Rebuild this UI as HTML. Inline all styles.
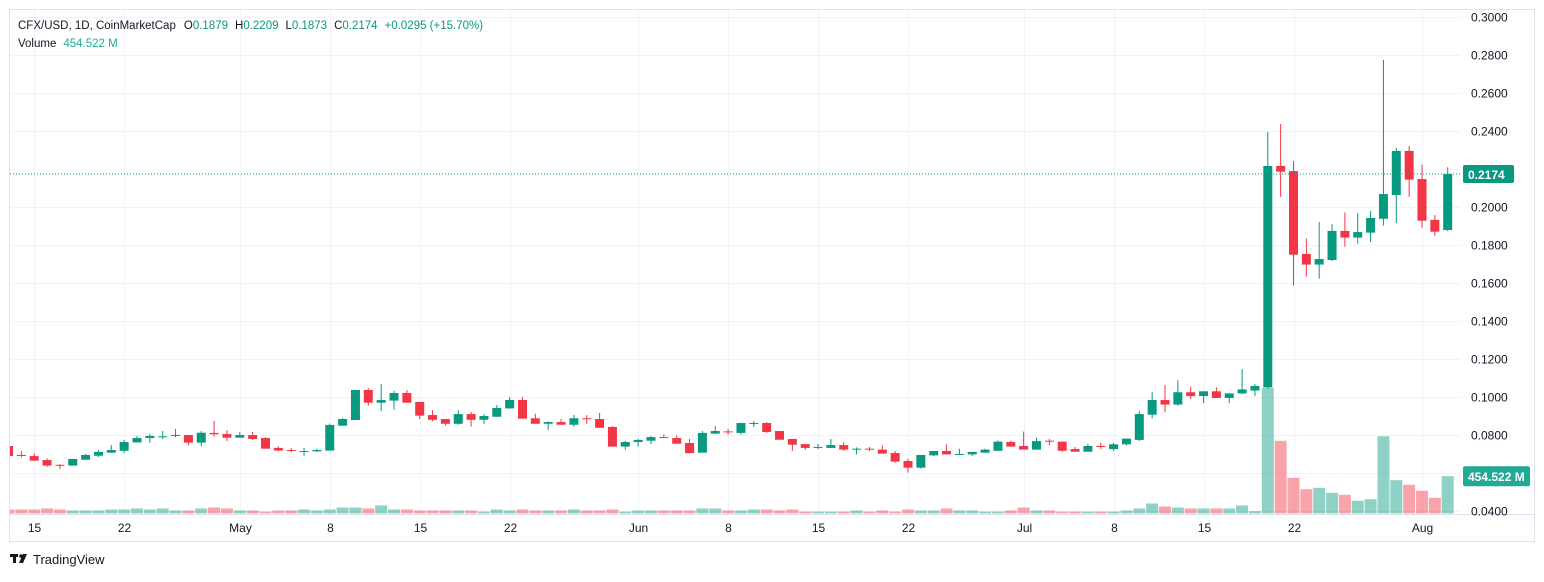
<!DOCTYPE html>
<html><head><meta charset="utf-8"><style>
html,body{margin:0;padding:0;background:#fff;}
body{width:1544px;height:577px;overflow:hidden;font-family:"Liberation Sans",sans-serif;}
svg text{font-family:"Liberation Sans",sans-serif;}
</style></head><body>
<svg id="chart" width="1544" height="577" viewBox="0 0 1544 577" xmlns="http://www.w3.org/2000/svg">
  <rect x="9.5" y="9.5" width="1525" height="532" fill="#fff" stroke="#e0e3eb"/>
  <g id="grid"></g>
  <g id="vol"></g>
  <g id="candles"></g>
  <line x1="10" y1="514.5" x2="1534" y2="514.5" stroke="#e0e3eb"/>
  <g id="yaxis"></g>
  <g id="xaxis"></g>
  <g font-size="11.5">
    <text x="18" y="29" fill="#131722">CFX/USD, 1D, CoinMarketCap<tspan dx="8" fill="#131722">O</tspan><tspan fill="#089981">0.1879</tspan><tspan dx="7" fill="#131722">H</tspan><tspan fill="#089981">0.2209</tspan><tspan dx="7" fill="#131722">L</tspan><tspan fill="#089981">0.1873</tspan><tspan dx="7" fill="#131722">C</tspan><tspan fill="#089981">0.2174</tspan><tspan dx="7" fill="#089981">+0.0295 (+15.70%)</tspan></text>
    <text x="18" y="47" fill="#131722">Volume<tspan dx="7" fill="#22ab94">454.522 M</tspan></text>
  </g>
  <g>
    <rect x="10" y="554" width="8" height="3" fill="#131722"/><rect x="13" y="554" width="3" height="9" fill="#131722"/>
    <circle cx="21" cy="556" r="1.8" fill="#131722"/><path d="M23 554 L27 554 L23 563 L19 563 Z" fill="#131722"/>
    <text x="33" y="564" font-size="13" fill="#131722">TradingView</text>
  </g>
</svg>
<script>
const opens=[.0742,.0695,.0689,.0668,.0643,.0639,.0670,.0691,.0707,.0717,.0761,.0784,.0788,.0796,.0800,.0760,.0811,.0805,.0786,.0800,.0784,.0732,.0721,.0714,.0714,.0718,.0849,.0879,.1037,.0970,.0981,.1021,.0974,.0905,.0884,.0859,.0910,.0880,.0896,.0940,.0984,.0888,.0859,.0868,.0854,.0888,.0884,.0842,.0739,.0763,.0770,.0789,.0784,.0758,.0707,.0807,.0819,.0811,.0861,.0863,.0821,.0779,.0752,.0735,.0732,.0747,.0725,.0728,.0723,.0705,.0663,.0628,.0693,.0716,.0698,.0698,.0707,.0717,.0763,.0742,.0723,.0770,.0765,.0726,.0712,.0742,.0726,.0751,.0774,.0907,.0984,.0960,.1025,.1005,.1030,.0995,.1019,.1034,.1051,.2216,.2189,.1753,.1697,.1721,.1874,.1839,.1865,.1938,.2063,.2295,.2147,.1932,.1879];
const highs=[.0750,.0716,.0704,.0677,.0646,.0674,.0700,.0721,.0747,.0774,.0795,.0805,.0821,.0832,.0800,.0821,.0874,.0826,.0816,.0816,.0789,.0740,.0732,.0733,.0728,.0860,.0889,.1037,.1047,.1068,.1032,.1037,.0974,.0931,.0884,.0931,.0921,.0910,.0958,.1000,.1000,.0912,.0872,.0884,.0905,.0905,.0916,.0847,.0768,.0779,.0795,.0803,.0796,.0779,.0821,.0847,.0832,.0863,.0874,.0868,.0821,.0779,.0752,.0754,.0779,.0763,.0735,.0737,.0744,.0716,.0675,.0695,.0716,.0751,.0728,.0711,.0728,.0772,.0770,.0818,.0786,.0779,.0765,.0737,.0754,.0760,.0758,.0781,.0926,.1025,.1063,.1089,.1056,.1030,.1051,.1019,.1147,.1068,.2396,.2437,.2242,.1835,.1921,.1911,.1972,.1968,.1979,.2774,.2311,.2321,.2223,.1958,.2209];
const lows=[.0685,.0681,.0663,.0633,.0620,.0639,.0670,.0684,.0707,.0704,.0761,.0758,.0779,.0788,.0747,.0740,.0791,.0768,.0786,.0774,.0728,.0714,.0709,.0690,.0711,.0718,.0849,.0879,.0954,.0926,.0933,.0970,.0884,.0872,.0849,.0854,.0844,.0859,.0896,.0940,.0886,.0859,.0826,.0854,.0844,.0859,.0838,.0739,.0723,.0739,.0752,.0786,.0754,.0702,.0707,.0807,.0802,.0803,.0842,.0811,.0775,.0716,.0721,.0726,.0732,.0716,.0698,.0716,.0702,.0654,.0602,.0623,.0688,.0698,.0698,.0689,.0707,.0717,.0739,.0723,.0723,.0747,.0712,.0712,.0712,.0726,.0716,.0745,.0768,.0888,.0919,.0954,.0989,.0968,.0995,.0968,.1014,.1005,.1045,.2053,.1586,.1633,.1623,.1716,.1791,.1807,.1816,.1902,.1916,.2053,.1891,.1849,.1873];
const closes=[.0689,.0690,.0665,.0639,.0640,.0674,.0695,.0711,.0721,.0763,.0784,.0795,.0793,.0800,.0760,.0812,.0804,.0786,.0800,.0779,.0728,.0718,.0718,.0716,.0721,.0853,.0884,.1037,.0970,.0984,.1021,.0970,.0902,.0880,.0859,.0910,.0880,.0900,.0942,.0984,.0886,.0859,.0868,.0854,.0888,.0884,.0838,.0739,.0763,.0774,.0789,.0786,.0754,.0705,.0811,.0821,.0816,.0863,.0863,.0816,.0775,.0749,.0732,.0737,.0747,.0723,.0728,.0725,.0702,.0660,.0628,.0695,.0716,.0698,.0700,.0711,.0723,.0765,.0739,.0723,.0768,.0768,.0717,.0712,.0742,.0740,.0751,.0781,.0910,.0984,.0960,.1025,.1005,.1030,.0995,.1019,.1040,.1058,.2216,.2186,.1749,.1697,.1726,.1874,.1839,.1868,.1942,.2068,.2295,.2144,.1928,.1870,.2174];
const volumes=[49,49,49,61,49,37,37,37,49,49,61,49,61,37,37,61,73,61,37,37,24,37,37,49,37,49,73,73,61,98,49,49,37,37,37,37,37,24,49,37,49,37,37,37,49,37,37,49,24,37,37,37,37,37,61,61,37,37,49,49,37,49,24,24,24,24,37,24,37,24,49,37,37,61,37,37,24,24,37,73,37,37,24,24,24,24,24,37,61,122,85,73,61,61,61,61,98,30,1532,886,435,296,313,252,228,155,174,942,406,350,277,191,454.522];
const priceTicks=[0.04,0.06,0.08,0.10,0.12,0.14,0.16,0.18,0.20,0.22,0.24,0.26,0.28,0.30];
const dateLabels=["15","22","May","8","15","22","Jun","8","15","22","Jul","8","15","22","Aug"];
const dateIndex=[2,9,18,25,32,39,49,56,63,70,79,86,93,100,110];

const NS="http://www.w3.org/2000/svg";
const xOf=i=>8.5+i*12.85;
const yOf=p=>17+(0.30-p)/0.02*38;
const vOf=v=>513.5-v/12.19;
function mk(tag,attrs,parent){const e=document.createElementNS(NS,tag);for(const k in attrs)e.setAttribute(k,attrs[k]);parent.appendChild(e);return e;}
const grid=document.getElementById('grid'),vol=document.getElementById('vol'),cg=document.getElementById('candles'),ya=document.getElementById('yaxis'),xa=document.getElementById('xaxis');
const svg=document.getElementById('chart');
const defs=mk('defs',{},svg);const cp=mk('clipPath',{id:'pane'},defs);mk('rect',{x:10,y:10,width:1450,height:504},cp);
vol.setAttribute('clip-path','url(#pane)');cg.setAttribute('clip-path','url(#pane)');
priceTicks.forEach(p=>{
  const y=Math.round(yOf(p))+0.5;
  const g=mk('line',{x1:10,x2:1460,y1:y,y2:y,stroke:'#f0f3fa'},grid);
  
  
  const t=mk('text',{x:1471,y:y+4,'font-size':12,fill:'#131722'},ya);
  t.textContent=p.toFixed(4);
  
  
});
dateLabels.forEach((d,k)=>{
  const x=Math.round(xOf(dateIndex[k]))+0.5;
  const g=mk('line',{x1:x,x2:x,y1:10,y2:514,stroke:'#f0f3fa'},grid);
  
  
  const t=mk('text',{x:x,y:532,'font-size':12,fill:'#131722','text-anchor':'middle'},xa);
  t.textContent=d;
  
  
});
opens.forEach((o,i)=>{
  const c=closes[i],up=c>=o,x=xOf(i);
  const vb=mk('rect',{x:x-6,y:vOf(volumes[i]),width:12,height:513.5-vOf(volumes[i]),fill:up?'rgba(8,153,129,0.45)':'rgba(242,54,69,0.45)'},vol);
  
  
  const col=up?'#089981':'#f23645';
  const w=mk('line',{x1:x,x2:x,y1:yOf(highs[i]),y2:yOf(lows[i]),stroke:col,'stroke-width':1},cg);
  
  
  const top=yOf(Math.max(o,c)),bot=yOf(Math.min(o,c));
  const b=mk('rect',{x:x-4.5,y:top,width:9,height:Math.max(1,bot-top),fill:col},cg);
  
  
});
const lp=closes[closes.length-1],ly=yOf(lp);
const pl=mk('line',{x1:10,x2:1460,y1:ly,y2:ly,stroke:'#089981','stroke-dasharray':'1 2'},svg);


const pb=mk('rect',{x:1463,y:ly-9,width:51,height:18,rx:2,fill:'#089981'},svg);


const pt=mk('text',{x:1468,y:ly+5,'font-size':12,'font-weight':'bold',fill:'#fff'},svg);pt.textContent=lp.toFixed(4);


const lv=volumes[volumes.length-1],vy=vOf(lv);
const vbx=mk('rect',{x:1463,y:vy-10,width:67,height:20,rx:2,fill:'#22ab94'},svg);


const vt=mk('text',{x:1468,y:vy+5,'font-size':12,'font-weight':'bold',fill:'#fff'},svg);vt.textContent=lv.toFixed(3)+' M';


</script>
</body></html>
